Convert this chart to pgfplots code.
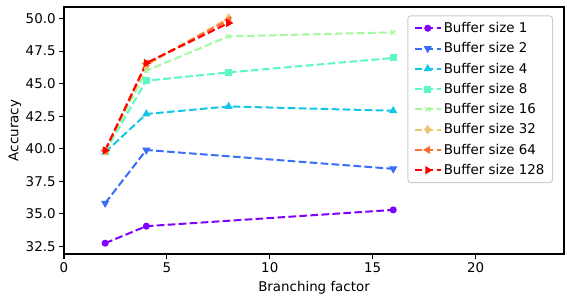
\documentclass[border=0pt]{standalone}
\usepackage{pgfplots}
\pgfplotsset{compat=1.18}
\usepackage{fontspec}
\setmainfont{DejaVu Sans}
\definecolor{c1}{RGB}{128,0,255}
\definecolor{c2}{RGB}{55,111,249}
\definecolor{c3}{RGB}{18,199,230}
\definecolor{c4}{RGB}{91,249,199}
\definecolor{c5}{RGB}{164,249,159}
\definecolor{c6}{RGB}{237,199,111}
\definecolor{c7}{RGB}{255,111,57}
\definecolor{c8}{RGB}{255,0,0}
\begin{document}
\begin{tikzpicture}
\begin{axis}[
  name=ax,
  scale only axis, width=500pt, height=247pt,
  xmin=0, xmax=24.3, ymin=31.9, ymax=50.9,
  xtick={0,5,10,15,20}, ytick={32.5,35,37.5,40,42.5,45,47.5,50},
  yticklabel style={/pgf/number format/.cd, fixed, fixed zerofill, precision=1},
  /pgf/number format/assume math mode=true,
  tick align=outside, tick pos=left,
  major tick length=4.9pt,
  every tick/.style={line width=1.1pt, black},
  axis line style={line width=1.1pt},
  tick label style={font=\fontsize{13.4}{15}\selectfont},
  xlabel={Branching factor}, ylabel={Accuracy},
  every axis x label/.style={at={(axis description cs:0.5,-0.1377)}, anchor=center, font=\fontsize{13.4}{15}\selectfont},
  every axis y label/.style={at={(axis description cs:-0.098,0.5)}, anchor=center, rotate=90, font=\fontsize{13.4}{15}\selectfont},
  every axis plot/.append style={line width=2pt, dash pattern=on 7.7pt off 3.3pt},
  legend style={at={(0.978,0.966)}, anchor=north east, draw=black!20, line width=1pt, rounded corners=3pt,
    font=\fontsize{13.4}{15}\selectfont, row sep=4.6pt, inner xsep=6pt, inner ysep=4.5pt},
  legend cell align=left,
  legend image code/.code={\draw[mark repeat=2,mark phase=2] plot coordinates {(0pt,0pt) (13pt,0pt) (26pt,0pt)};},
]
\addplot[c1, mark=*, mark size=3pt, mark options={solid, fill=c1, line width=1pt}] coordinates {(2,32.73) (4,34.04) (16,35.29)};
\addlegendentry{Buffer size 1}
\addplot[c2, mark=triangle*, mark size=3.8pt, mark options={solid, fill=c2, rotate=180, line width=1pt}] coordinates {(2,35.81) (4,39.90) (16,38.45)};
\addlegendentry{Buffer size 2}
\addplot[c3, mark=triangle*, mark size=3.8pt, mark options={solid, fill=c3, line width=1pt}] coordinates {(2,39.72) (4,42.67) (8,43.25) (16,42.92)};
\addlegendentry{Buffer size 4}
\addplot[c4, mark=square*, mark size=3pt, mark options={solid, fill=c4, line width=1pt}] coordinates {(2,39.78) (4,45.23) (8,45.87) (16,46.98)};
\addlegendentry{Buffer size 8}
\addplot[c5, mark=x, mark size=3.2pt, mark options={solid, line width=1pt}] coordinates {(2,39.80) (4,46.00) (8,48.64) (16,48.95)};
\addlegendentry{Buffer size 16}
\addplot[c6, mark=diamond*, mark size=4pt, mark options={solid, fill=c6, line width=1pt}] coordinates {(2,39.82) (4,46.40) (8,50.05)};
\addlegendentry{Buffer size 32}
\addplot[c7, mark=triangle*, mark size=3.8pt, mark options={solid, fill=c7, rotate=90, line width=1pt}] coordinates {(2,39.85) (4,46.55) (8,49.90)};
\addlegendentry{Buffer size 64}
\addplot[c8, mark=triangle*, mark size=3.8pt, mark options={solid, fill=c8, rotate=-90, line width=1pt}] coordinates {(2,39.87) (4,46.59) (8,49.67)};
\addlegendentry{Buffer size 128}
\end{axis}
\pgfresetboundingbox
\path ([shift={(-64pt,-48pt)}]ax.south west) rectangle ([shift={(3pt,7pt)}]ax.north east);
\end{tikzpicture}
\end{document}
